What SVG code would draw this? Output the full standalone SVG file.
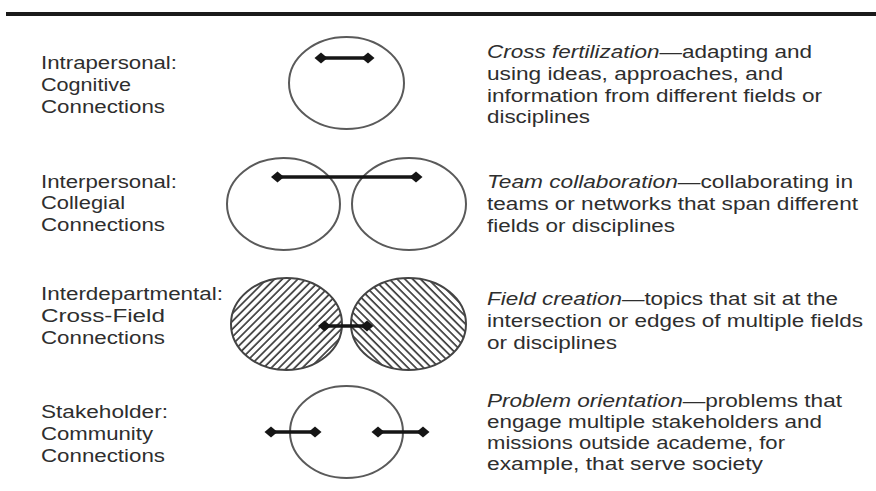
<svg xmlns="http://www.w3.org/2000/svg" width="876" height="491" viewBox="0 0 876 491">
  <style>
    .lbl { font-family: "Liberation Sans", Arial, sans-serif; font-size: 17.5px; fill: #2e2e2e; }
    .it { font-style: italic; }
    .ring { fill: #fff; stroke: #5a5a5a; stroke-width: 2; }
    .ringh { stroke: #444; stroke-width: 2; }
    .bar { stroke: #151515; stroke-width: 3.5; fill: none; marker-start: url(#dia); marker-end: url(#dia); }
  </style>
  <defs>
    <marker id="dia" markerUnits="userSpaceOnUse" markerWidth="14" markerHeight="12" refX="7" refY="6" orient="auto" viewBox="0 0 14 12">
      <path d="M0.5,6 L7,0.5 L13.5,6 L7,11.5 Z" fill="#151515"/>
    </marker>
    <pattern id="hatchL" width="5.5" height="5.5" patternUnits="userSpaceOnUse" patternTransform="rotate(45)">
      <rect width="5.5" height="5.5" fill="#fff"/>
      <line x1="1" y1="0" x2="1" y2="5.5" stroke="#3a3a3a" stroke-width="1.7"/>
    </pattern>
    <pattern id="hatchR" width="5.5" height="5.5" patternUnits="userSpaceOnUse" patternTransform="rotate(-45)">
      <rect width="5.5" height="5.5" fill="#fff"/>
      <line x1="1" y1="0" x2="1" y2="5.5" stroke="#3a3a3a" stroke-width="1.7"/>
    </pattern>
  </defs>
  <rect width="876" height="491" fill="#fff"/>
  <line x1="6" y1="14" x2="876" y2="14" stroke="#1a1a1a" stroke-width="4"/>

  <!-- Row 1 -->
  <g id="label-intrapersonal">
    <text class="lbl" x="41" y="69" textLength="136" lengthAdjust="spacingAndGlyphs">Intrapersonal:</text>
    <text class="lbl" x="41" y="91" textLength="90" lengthAdjust="spacingAndGlyphs">Cognitive</text>
    <text class="lbl" x="41" y="113" textLength="124" lengthAdjust="spacingAndGlyphs">Connections</text>
  </g>
  <g id="circle-intrapersonal">
    <ellipse class="ring" cx="346.5" cy="83" rx="57.5" ry="46"/>
  </g>
  <g id="desc-cross-fertilization">
    <text class="lbl" x="487" y="58" textLength="325" lengthAdjust="spacingAndGlyphs"><tspan class="it">Cross fertilization</tspan>—adapting and</text>
    <text class="lbl" x="487" y="80" textLength="296" lengthAdjust="spacingAndGlyphs">using ideas, approaches, and</text>
    <text class="lbl" x="487" y="102" textLength="335" lengthAdjust="spacingAndGlyphs">information from different fields or</text>
    <text class="lbl" x="487" y="123" textLength="103" lengthAdjust="spacingAndGlyphs">disciplines</text>
  </g>

  <!-- Row 2 -->
  <g id="label-interpersonal">
    <text class="lbl" x="41" y="188" textLength="136" lengthAdjust="spacingAndGlyphs">Interpersonal:</text>
    <text class="lbl" x="41" y="209" textLength="84" lengthAdjust="spacingAndGlyphs">Collegial</text>
    <text class="lbl" x="41" y="231" textLength="124" lengthAdjust="spacingAndGlyphs">Connections</text>
  </g>
  <g id="circles-interpersonal">
    <ellipse class="ring" cx="283.5" cy="204" rx="56.5" ry="46"/>
    <ellipse class="ring" cx="409" cy="204" rx="57" ry="46"/>
  </g>
  <g id="desc-team-collaboration">
    <text class="lbl" x="487" y="188" textLength="366" lengthAdjust="spacingAndGlyphs"><tspan class="it">Team collaboration</tspan>—collaborating in</text>
    <text class="lbl" x="487" y="210" textLength="371" lengthAdjust="spacingAndGlyphs">teams or networks that span different</text>
    <text class="lbl" x="487" y="232" textLength="188" lengthAdjust="spacingAndGlyphs">fields or disciplines</text>
  </g>

  <!-- Row 3 -->
  <g id="label-interdepartmental">
    <text class="lbl" x="41" y="300" textLength="182" lengthAdjust="spacingAndGlyphs">Interdepartmental:</text>
    <text class="lbl" x="41" y="322" textLength="124" lengthAdjust="spacingAndGlyphs">Cross-Field</text>
    <text class="lbl" x="41" y="344" textLength="124" lengthAdjust="spacingAndGlyphs">Connections</text>
  </g>
  <g id="circles-interdepartmental">
    <ellipse class="ringh" cx="286.5" cy="324" rx="55.5" ry="46" fill="url(#hatchL)"/>
    <ellipse class="ringh" cx="408.5" cy="324" rx="57.5" ry="46" fill="url(#hatchR)"/>
  </g>
  <g id="desc-field-creation">
    <text class="lbl" x="487" y="305" textLength="351" lengthAdjust="spacingAndGlyphs"><tspan class="it">Field creation</tspan>—topics that sit at the</text>
    <text class="lbl" x="487" y="327" textLength="376" lengthAdjust="spacingAndGlyphs">intersection or edges of multiple fields</text>
    <text class="lbl" x="487" y="349" textLength="130" lengthAdjust="spacingAndGlyphs">or disciplines</text>
  </g>

  <!-- Row 4 -->
  <g id="label-stakeholder">
    <text class="lbl" x="41" y="418" textLength="127" lengthAdjust="spacingAndGlyphs">Stakeholder:</text>
    <text class="lbl" x="41" y="440" textLength="112" lengthAdjust="spacingAndGlyphs">Community</text>
    <text class="lbl" x="41" y="462" textLength="124" lengthAdjust="spacingAndGlyphs">Connections</text>
  </g>
  <g id="circle-stakeholder">
    <ellipse class="ring" cx="346.5" cy="432" rx="56.5" ry="46"/>
  </g>
  <g id="desc-problem-orientation">
    <text class="lbl" x="487" y="407" textLength="355" lengthAdjust="spacingAndGlyphs"><tspan class="it">Problem orientation</tspan>—problems that</text>
    <text class="lbl" x="487" y="428" textLength="335" lengthAdjust="spacingAndGlyphs">engage multiple stakeholders and</text>
    <text class="lbl" x="487" y="449" textLength="298" lengthAdjust="spacingAndGlyphs">missions outside academe, for</text>
    <text class="lbl" x="487" y="470" textLength="276" lengthAdjust="spacingAndGlyphs">example, that serve society</text>
  </g>

  <!-- Connectors -->
  <g id="connectors">
    <line class="bar" x1="321" y1="58" x2="368" y2="58"/>
    <line class="bar" x1="277.5" y1="177" x2="416" y2="177"/>
    <line class="bar" x1="324.5" y1="326" x2="367" y2="326"/>
    <line class="bar" x1="271" y1="432" x2="315" y2="432"/>
    <line class="bar" x1="378" y1="432" x2="423" y2="432"/>
  </g>
</svg>
